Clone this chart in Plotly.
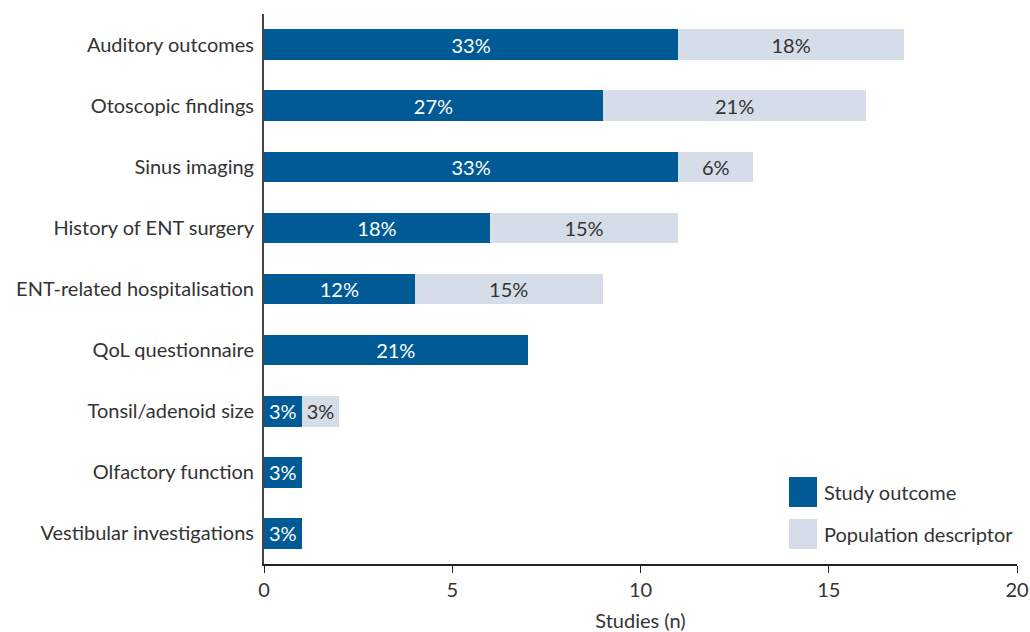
import plotly.graph_objects as go

categories = ["Auditory outcomes", "Otoscopic findings", "Sinus imaging",
              "History of ENT surgery", "ENT-related hospitalisation",
              "QoL questionnaire", "Tonsil/adenoid size", "Olfactory function",
              "Vestibular investigations"]
study_outcome = [11, 9, 11, 6, 4, 7, 1, 1, 1]
population_descriptor = [6, 7, 2, 5, 5, 0, 1, 0, 0]
study_outcome_labels = ["33%", "27%", "33%", "18%", "12%", "21%", "3%", "3%", "3%"]
population_descriptor_labels = ["18%", "21%", "6%", "15%", "15%", "", "3%", "", ""]
series_names = ["Study outcome", "Population descriptor"]
x_ticks = [0, 5, 10, 15, 20]

DARK = "#005a96"
LIGHT = "#d5dde9"
TEXT = "#333333"
FONT = "Lato"
FS = 20

L, R, T, B = 264, 1017, 14, 564
W, H = R - L, B - T

fig = go.Figure()
fig.add_trace(go.Bar(
    y=categories, x=study_outcome, orientation="h", name=series_names[0],
    marker=dict(color=DARK, line=dict(width=0)), width=0.5,
    text=study_outcome_labels, textposition="inside", insidetextanchor="middle",
    textangle=0, constraintext="none",
    textfont=dict(color="white", size=FS, family=FONT), showlegend=False,
))
fig.add_trace(go.Bar(
    y=categories, x=population_descriptor, orientation="h", name=series_names[1],
    marker=dict(color=LIGHT, line=dict(width=0)), width=0.5,
    text=population_descriptor_labels, textposition="inside", insidetextanchor="middle",
    textangle=0, constraintext="none",
    textfont=dict(color=TEXT, size=FS, family=FONT), showlegend=False,
))

def px(x):
    return (x - L) / W
def py(y):
    return (B - y) / H

for i, (name, col) in enumerate(zip(series_names, [DARK, LIGHT])):
    y0 = 477 + i * 42
    fig.add_shape(type="rect", xref="paper", yref="paper",
                  x0=px(789), x1=px(817), y0=py(y0 + 30), y1=py(y0),
                  fillcolor=col, line=dict(width=0))
    fig.add_annotation(xref="paper", yref="paper", x=px(822), y=py(y0 + 15),
                       text=name, showarrow=False, xanchor="left", yanchor="middle",
                       font=dict(size=FS, color=TEXT, family=FONT))

fig.update_layout(
    barmode="stack",
    width=1030, height=632,
    margin=dict(l=L, r=1030 - R, t=T, b=632 - B, autoexpand=False),
    plot_bgcolor="white", paper_bgcolor="white",
    font=dict(family=FONT, color=TEXT, size=FS),
    bargap=0.5,
)
fig.update_xaxes(
    range=[0, 20], tickvals=x_ticks, showgrid=False, zeroline=False,
    showline=True, linecolor="#222222", linewidth=1.5,
    ticks="outside", ticklen=7, tickcolor="#222222",
    tickfont=dict(size=FS, color=TEXT),
    title=dict(text="Studies (n)", font=dict(size=FS, color=TEXT), standoff=14),
    automargin=False,
)
fig.update_yaxes(
    autorange="reversed", showgrid=False, zeroline=False,
    showline=True, linecolor="#444444", linewidth=2,
    ticks="", ticklabelstandoff=4,
    tickfont=dict(size=FS, color=TEXT),
    automargin=False,
)

fig.write_html("out.html", config={"displayModeBar": False},
               post_script="document.body.style.margin='0px';")
